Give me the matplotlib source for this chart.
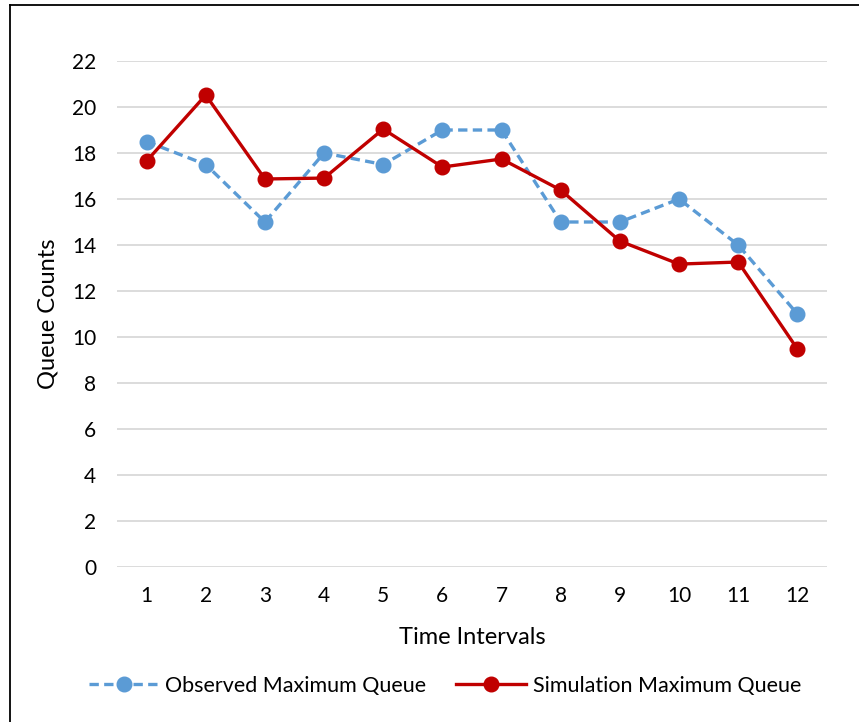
import matplotlib
matplotlib.use("Agg")
import matplotlib.pyplot as plt
from matplotlib.lines import Line2D

BLUE = "#5B9BD5"
RED = "#C00000"
GRID = "#D9D9D9"

intervals = list(range(1, 13))
observed = [18.5, 17.5, 15, 18, 17.5, 19, 19, 15, 15, 16, 14, 11]
simulated = [17.65, 20.52, 16.87, 16.91, 19.04, 17.39, 17.74, 16.39, 14.17, 13.17, 13.26, 9.48]
yticks = list(range(0, 23, 2))

plt.rcParams.update({
    "font.family": ["Lato", "DejaVu Sans"],
    "font.size": 15,
})

fig = plt.figure(figsize=(8.59, 7.22), dpi=100)
ax = fig.add_axes([0.1362, 0.2147, 0.8265, 0.7008])

ax.plot(intervals, observed, color=BLUE, linestyle=(0, (2.8, 1.6)), linewidth=2.4,
        marker="o", markersize=10.5, label="Observed Maximum Queue", zorder=3)
ax.plot(intervals, simulated, color=RED, linestyle="-", linewidth=2.4,
        marker="o", markersize=10.5, label="Simulation Maximum Queue", zorder=4)

ax.set_xlim(0.5, 12.5)
ax.set_ylim(0, 22)
ax.set_xticks(intervals)
ax.set_yticks(yticks)
ax.tick_params(length=0, labelsize=15, colors="#000000")
ax.tick_params(axis="y", pad=15)
ax.tick_params(axis="x", pad=14)
ax.grid(axis="y", color=GRID, linewidth=1.3)
ax.set_axisbelow(True)
for s in ax.spines.values():
    s.set_visible(False)

ax.set_xlabel("Time Intervals", fontsize=17, labelpad=15)
ax.set_ylabel("Queue Counts", fontsize=17, labelpad=10)

fig.legend(loc="center", bbox_to_anchor=(0.518, 0.05), ncol=2, frameon=False,
           fontsize=15.5, handlelength=3.25, handletextpad=0.3, columnspacing=1.4)

# chart-area border (left and top visible)
fig.add_artist(Line2D([0.0116, 0.0116], [0, 0.993], transform=fig.transFigure,
                      color="black", linewidth=1.3))
fig.add_artist(Line2D([0.0116, 1.0], [0.993, 0.993], transform=fig.transFigure,
                      color="black", linewidth=1.3))

fig.savefig("out.png", dpi=100, facecolor="white")
